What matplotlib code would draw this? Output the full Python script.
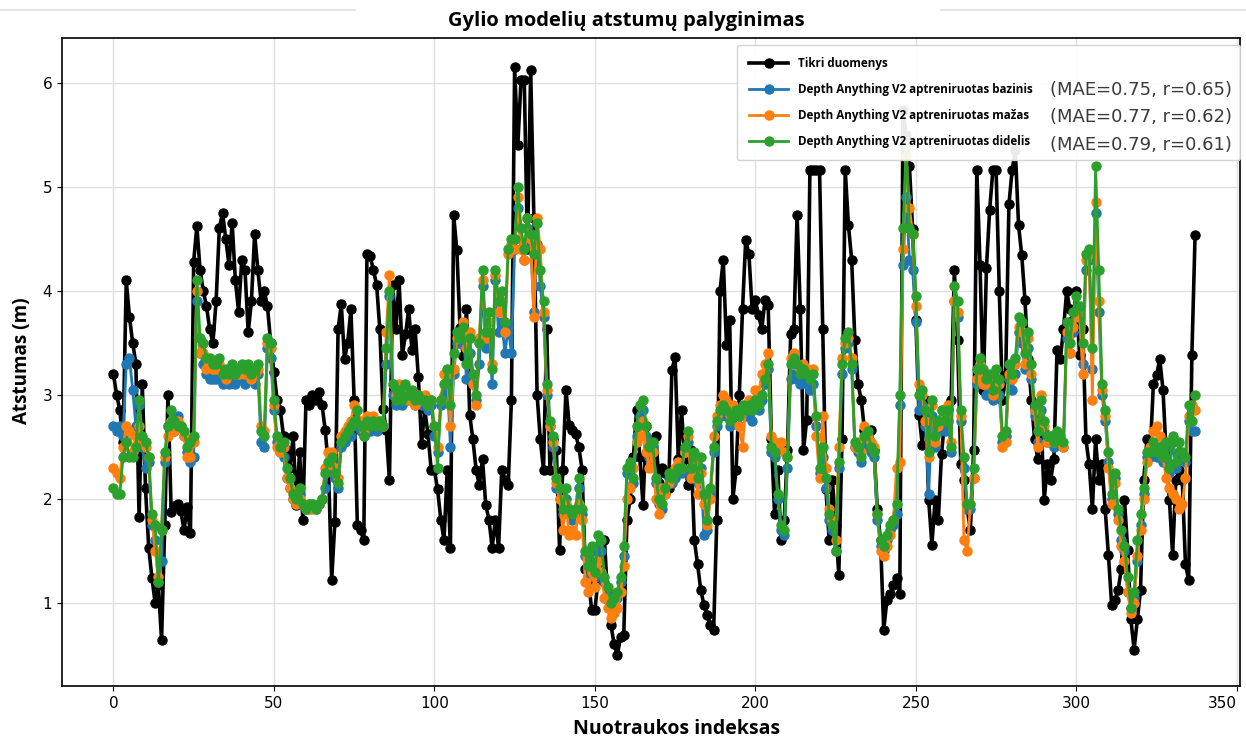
import matplotlib
matplotlib.use("Agg")
import matplotlib.pyplot as plt
from matplotlib.lines import Line2D
import numpy as np

title = "Gylio modelių atstumų palyginimas"
xlabel = "Nuotraukos indeksas"
ylabel = "Atstumas (m)"
labels = ["Tikri duomenys",
          "Depth Anything V2 aptreniruotas bazinis",
          "Depth Anything V2 aptreniruotas mažas",
          "Depth Anything V2 aptreniruotas didelis"]
metrics = ["(MAE=0.75, r=0.65)", "(MAE=0.77, r=0.62)", "(MAE=0.79, r=0.61)"]
xticks = [0, 50, 100, 150, 200, 250, 300, 350]
yticks = [1, 2, 3, 4, 5, 6]

true_vals = [
    3.2, 3.0, 2.85, 2.55, 4.1, 3.75, 3.5, 3.3, 1.82, 3.1,
    2.1, 1.53, 1.24, 1.0, 1.17, 0.64, 1.75, 3.0, 1.87, 1.93,
    1.95, 1.88, 1.7, 1.92, 1.67, 4.28, 4.62, 4.2, 4.0, 3.85,
    3.63, 3.5, 3.9, 4.6, 4.75, 4.5, 4.25, 4.65, 4.1, 3.8,
    4.3, 4.2, 3.6, 3.9, 4.55, 4.2, 3.9, 4.0, 3.85, 3.5,
    3.22, 2.95, 2.85, 2.6, 2.47, 2.3, 2.6, 1.94, 2.45, 1.8,
    2.95, 2.9, 3.0, 2.95, 3.03, 2.9, 2.66, 2.3, 1.22, 1.78,
    3.63, 3.87, 3.34, 3.5, 3.82, 2.95, 1.75, 1.7, 1.6, 4.35,
    4.33, 4.2, 4.06, 3.63, 2.86, 2.66, 2.18, 4.06, 3.63, 4.1,
    3.38, 3.58, 3.82, 3.43, 3.63, 3.17, 2.53, 2.86, 2.62, 2.28,
    2.28, 2.09, 1.8, 1.6, 2.28, 1.53, 4.73, 4.39, 3.64, 3.37,
    3.82, 2.81, 2.57, 2.28, 2.13, 2.38, 1.94, 1.8, 1.53, 1.8,
    1.53, 2.28, 2.18, 2.13, 2.95, 6.15, 5.4, 6.03, 6.03, 4.4,
    6.12, 4.7, 3.0, 2.57, 2.28, 3.63, 2.28, 2.57, 2.47, 1.51,
    2.28, 3.05, 2.71, 2.66, 2.62, 2.5, 2.28, 1.32, 1.22, 0.93,
    0.93, 1.22, 1.41, 1.6, 1.03, 0.79, 0.6, 0.5, 0.67, 0.69,
    1.8, 2.0, 2.4, 2.85, 2.4, 1.94, 2.7, 2.5, 2.38, 2.6,
    2.15, 2.3, 2.25, 2.1, 3.24, 3.36, 2.38, 2.85, 2.38, 2.13,
    2.47, 1.6, 1.37, 1.12, 0.98, 0.88, 0.79, 0.74, 1.8, 4.0,
    4.3, 3.48, 3.72, 2.0, 2.28, 3.0, 3.82, 4.49, 4.35, 3.82,
    3.91, 3.77, 3.63, 3.91, 3.86, 2.57, 1.85, 2.28, 1.6, 1.8,
    2.47, 3.58, 3.63, 4.73, 3.82, 2.47, 2.76, 5.16, 5.16, 5.16,
    5.16, 3.63, 2.09, 1.6, 2.18, 1.75, 1.27, 2.57, 5.16, 4.63,
    4.3, 3.53, 3.1, 2.95, 2.66, 2.57, 2.66, 2.47, 1.9, 1.6,
    0.74, 1.03, 1.08, 1.17, 1.24, 1.08, 5.74, 5.5, 5.2, 4.59,
    3.72, 2.81, 2.52, 2.95, 1.99, 1.56, 1.99, 1.8, 2.43, 2.76,
    2.86, 2.95, 4.2, 3.53, 2.33, 2.18, 1.9, 1.7, 2.47, 5.16,
    4.25, 3.05, 4.22, 4.78, 5.16, 5.16, 4.0, 2.95, 3.19, 4.83,
    5.16, 5.35, 4.63, 4.34, 3.91, 3.34, 2.95, 2.57, 2.38, 2.76,
    1.99, 2.33, 2.18, 2.38, 3.43, 3.34, 3.63, 4.0, 3.82, 3.72,
    4.0, 3.38, 3.63, 2.57, 2.33, 1.9, 2.57, 2.18, 2.33, 1.9,
    1.46, 0.98, 1.03, 1.12, 1.32, 1.99, 1.51, 0.84, 0.55, 0.84,
    1.12, 2.18, 2.57, 2.43, 3.1, 3.19, 3.34, 3.05, 2.43, 1.99,
    1.46, 2.18, 2.28, 2.18, 1.37, 1.22, 3.38, 4.54,
]

base_vals = [
    2.7, 2.65, 2.7, 2.6, 3.3, 3.35, 3.05, 2.7, 2.9, 2.5,
    2.3, 2.35, 1.75, 1.6, 1.2, 1.4, 2.35, 2.7, 2.75, 2.65,
    2.8, 2.7, 2.6, 2.45, 2.35, 2.4, 3.9, 3.4, 3.3, 3.2,
    3.15, 3.15, 3.15, 3.2, 3.1, 3.15, 3.1, 3.15, 3.1, 3.15,
    3.2, 3.1, 3.2, 3.15, 3.1, 3.2, 2.55, 2.5, 3.45, 3.35,
    2.85, 2.55, 2.45, 2.4, 2.2, 2.1, 2.0, 1.95, 2.05, 1.95,
    1.9, 1.9, 1.95, 1.9, 1.95, 2.0, 2.1, 2.3, 2.35, 2.2,
    2.1, 2.5, 2.55, 2.6, 2.6, 2.7, 2.75, 2.65, 2.6, 2.7,
    2.65, 2.7, 2.65, 2.7, 2.7, 3.3, 3.95, 3.0, 2.9, 3.0,
    2.9, 3.0, 2.95, 3.0, 2.9, 2.95, 2.9, 2.9, 2.85, 2.9,
    2.6, 2.45, 2.9, 3.0, 3.15, 2.5, 3.2, 3.5, 3.5, 3.6,
    3.15, 3.4, 3.1, 2.95, 3.3, 4.05, 3.45, 3.6, 3.1, 4.1,
    3.6, 3.7, 3.4, 3.65, 3.4, 4.4, 4.8, 4.4, 4.3, 4.6,
    4.45, 3.8, 4.45, 4.05, 3.75, 3.0, 2.7, 2.5, 2.1, 2.0,
    1.85, 2.0, 1.85, 1.8, 1.85, 2.1, 1.85, 1.45, 1.25, 1.5,
    1.25, 1.55, 1.5, 1.2, 1.1, 0.95, 1.0, 1.05, 1.2, 1.45,
    2.25, 2.3, 2.15, 2.6, 2.8, 2.85, 2.6, 2.4, 2.5, 2.15,
    1.95, 1.9, 2.05, 2.2, 2.15, 2.2, 2.25, 2.25, 2.45, 2.55,
    2.25, 2.4, 2.15, 2.3, 1.65, 1.7, 2.05, 2.45, 2.7, 2.8,
    2.85, 2.8, 2.7, 2.75, 2.8, 2.7, 2.85, 2.8, 2.8, 2.75,
    2.9, 2.85, 2.95, 3.1, 3.25, 2.45, 2.4, 2.0, 1.7, 1.65,
    2.3, 3.15, 3.2, 3.15, 3.1, 3.15, 3.1, 3.05, 3.1, 2.7,
    2.25, 2.4, 2.1, 1.8, 1.7, 1.5, 2.3, 3.2, 3.45, 3.5,
    3.25, 2.5, 2.45, 2.35, 2.5, 2.55, 2.45, 2.4, 1.8, 1.55,
    1.5, 1.6, 1.7, 1.75, 1.85, 2.9, 4.25, 4.9, 4.3, 4.2,
    3.7, 2.85, 2.9, 2.7, 2.05, 2.8, 2.5, 2.65, 2.75, 2.65,
    2.75, 2.45, 3.9, 3.75, 2.75, 2.3, 1.9, 1.9, 2.2, 3.1,
    3.2, 3.1, 3.0, 3.05, 2.95, 3.1, 3.0, 2.55, 2.6, 3.15,
    3.05, 3.2, 3.6, 3.5, 3.25, 3.45, 3.15, 2.8, 2.55, 2.85,
    2.65, 2.55, 2.55, 2.5, 2.6, 2.55, 2.5, 3.55, 3.4, 3.6,
    3.8, 3.75, 3.3, 4.2, 4.3, 3.25, 4.75, 3.8, 3.0, 2.75,
    2.35, 2.0, 2.2, 1.85, 1.6, 1.5, 1.1, 0.95, 1.05, 1.4,
    1.75, 2.05, 2.4, 2.4, 2.5, 2.4, 2.45, 2.35, 2.5, 2.25,
    2.55, 2.3, 2.45, 2.4, 2.35, 2.75, 2.65, 2.65,
]

small_vals = [
    2.3, 2.25, 2.2, 2.5, 2.7, 2.65, 2.45, 2.6, 2.7, 2.55,
    2.5, 2.4, 1.8, 1.5, 1.25, 1.7, 2.4, 2.6, 2.75, 2.65,
    2.75, 2.7, 2.6, 2.4, 2.4, 2.55, 4.0, 3.4, 3.4, 3.25,
    3.3, 3.25, 3.25, 3.3, 3.2, 3.15, 3.2, 3.25, 3.2, 3.2,
    3.25, 3.2, 3.25, 3.15, 3.2, 3.25, 2.7, 2.65, 3.5, 3.45,
    2.9, 2.5, 2.45, 2.5, 2.2, 2.1, 2.0, 1.95, 2.0, 1.95,
    1.9, 1.95, 1.9, 1.9, 1.95, 2.0, 2.3, 2.45, 2.45, 2.3,
    2.2, 2.6, 2.65, 2.7, 2.75, 2.9, 2.85, 2.75, 2.65, 2.8,
    2.75, 2.8, 2.75, 2.75, 2.7, 3.6, 4.15, 3.1, 3.0, 3.1,
    3.0, 3.05, 2.95, 3.0, 2.9, 3.0, 2.95, 3.0, 2.9, 2.95,
    2.7, 2.5, 2.95, 3.2, 3.2, 2.7, 3.25, 3.55, 3.6, 3.7,
    3.45, 3.6, 3.1, 2.9, 3.55, 4.1, 3.55, 3.7, 3.3, 4.15,
    3.8, 3.9, 3.6, 4.35, 4.45, 4.4, 4.9, 4.4, 4.3, 4.7,
    4.5, 3.75, 4.7, 4.4, 3.8, 3.05, 2.7, 2.55, 2.15, 2.0,
    1.7, 1.95, 1.65, 1.7, 1.65, 1.95, 1.8, 1.2, 1.1, 1.3,
    1.15, 1.4, 1.3, 1.05, 0.95, 0.85, 0.9, 0.95, 1.1, 1.35,
    2.0, 2.1, 2.3, 2.55, 2.6, 2.75, 2.45, 2.3, 2.45, 2.0,
    1.85, 2.1, 2.05, 2.15, 2.2, 2.3, 2.35, 2.3, 2.45, 2.6,
    2.2, 2.35, 2.05, 2.25, 1.95, 1.75, 2.0, 2.6, 2.8, 2.9,
    3.0, 2.95, 2.8, 2.9, 2.85, 2.7, 2.5, 2.9, 2.95, 2.9,
    3.05, 3.0, 3.2, 3.3, 3.4, 2.6, 2.55, 2.5, 2.55, 2.45,
    2.4, 3.35, 3.4, 3.3, 3.25, 3.3, 3.25, 3.2, 3.25, 2.6,
    2.2, 2.8, 2.3, 1.9, 1.8, 1.6, 2.5, 3.35, 3.5, 3.55,
    3.35, 2.5, 2.55, 2.45, 2.7, 2.6, 2.55, 2.5, 1.85, 1.5,
    1.45, 1.55, 1.65, 1.8, 2.3, 2.35, 4.4, 5.3, 4.8, 4.55,
    3.85, 3.1, 3.0, 2.75, 2.4, 2.9, 2.55, 2.7, 2.85, 2.8,
    2.9, 2.55, 3.9, 3.8, 2.8, 1.6, 1.5, 1.95, 2.2, 3.15,
    3.3, 3.1, 3.1, 3.15, 3.0, 3.15, 3.1, 2.5, 2.55, 3.2,
    3.15, 3.3, 3.65, 3.6, 3.3, 3.55, 3.2, 2.85, 2.5, 3.0,
    2.7, 2.55, 2.6, 2.55, 2.6, 2.55, 2.5, 3.6, 3.4, 3.65,
    3.75, 3.8, 3.2, 4.3, 4.35, 2.95, 4.85, 3.9, 3.05, 2.8,
    2.3, 1.95, 2.15, 1.8, 1.55, 1.4, 1.1, 0.9, 1.0, 1.45,
    1.7, 2.0, 2.35, 2.5, 2.65, 2.7, 2.6, 2.4, 2.2, 2.1,
    2.05, 2.0, 1.9, 1.95, 2.2, 2.8, 2.9, 2.85,
]

large_vals = [
    2.1, 2.05, 2.05, 2.4, 2.55, 2.4, 2.4, 2.5, 2.95, 2.6,
    2.55, 2.4, 1.85, 1.75, 1.2, 1.7, 2.45, 2.7, 2.85, 2.75,
    2.7, 2.7, 2.65, 2.5, 2.55, 2.6, 4.1, 3.55, 3.5, 3.35,
    3.35, 3.3, 3.3, 3.35, 3.2, 3.25, 3.2, 3.3, 3.2, 3.25,
    3.3, 3.25, 3.3, 3.2, 3.25, 3.3, 2.65, 2.6, 3.55, 3.5,
    2.95, 2.6, 2.5, 2.55, 2.3, 2.2, 2.05, 2.0, 2.1, 1.95,
    1.9, 1.95, 1.95, 1.9, 1.95, 2.0, 2.25, 2.35, 2.4, 2.25,
    2.15, 2.55, 2.6, 2.65, 2.7, 2.75, 2.85, 2.7, 2.6, 2.75,
    2.7, 2.75, 2.7, 2.75, 2.7, 3.45, 4.0, 3.1, 2.95, 3.05,
    2.95, 3.1, 3.0, 3.05, 2.95, 3.0, 2.95, 2.95, 2.9, 2.95,
    2.7, 2.3, 2.95, 3.1, 3.25, 2.9, 3.4, 3.6, 3.55, 3.65,
    3.3, 3.55, 3.2, 3.0, 3.5, 4.2, 3.6, 3.8, 3.25, 4.2,
    3.9, 4.0, 3.7, 4.4, 4.5, 4.5, 5.0, 4.6, 4.4, 4.7,
    4.55, 4.35, 4.65, 4.2, 3.9, 3.1, 2.75, 2.6, 2.2, 2.1,
    1.9, 2.1, 1.9, 1.85, 1.9, 2.2, 1.9, 1.5, 1.35, 1.55,
    1.3, 1.65, 1.6, 1.25, 1.15, 1.0, 1.05, 1.1, 1.25, 1.55,
    2.3, 2.35, 2.2, 2.7, 2.9, 2.95, 2.7, 2.5, 2.55, 2.2,
    2.0, 1.95, 2.1, 2.25, 2.2, 2.25, 2.3, 2.3, 2.5, 2.65,
    2.3, 2.45, 2.2, 2.4, 2.05, 1.8, 2.1, 2.5, 2.75, 2.85,
    2.9, 2.85, 2.75, 2.8, 2.85, 2.8, 2.9, 2.85, 2.9, 2.85,
    2.95, 2.9, 3.0, 3.15, 3.3, 2.5, 2.45, 2.05, 1.75, 1.7,
    2.4, 3.3, 3.35, 3.3, 3.2, 3.25, 3.2, 3.15, 3.2, 2.8,
    2.3, 2.5, 2.2, 1.85, 1.75, 1.5, 2.35, 3.3, 3.55, 3.6,
    3.3, 2.55, 2.5, 2.4, 2.6, 2.65, 2.5, 2.45, 1.85, 1.6,
    1.55, 1.65, 1.75, 1.8, 1.95, 3.0, 4.6, 5.4, 4.6, 4.55,
    3.95, 3.0, 3.05, 2.85, 2.45, 2.95, 2.6, 2.75, 2.85, 2.75,
    2.85, 2.5, 4.05, 3.9, 2.85, 2.4, 1.95, 1.95, 2.3, 3.25,
    3.35, 3.25, 3.15, 3.2, 3.05, 3.25, 3.15, 2.6, 2.65, 3.3,
    3.2, 3.35, 3.75, 3.7, 3.4, 3.6, 3.3, 2.9, 2.65, 2.95,
    2.75, 2.6, 2.6, 2.55, 2.65, 2.6, 2.55, 3.7, 3.5, 3.8,
    3.95, 3.85, 3.5, 4.35, 4.4, 3.45, 5.2, 4.2, 3.1, 2.85,
    2.45, 2.05, 2.25, 1.9, 1.7, 1.55, 1.25, 0.95, 1.1, 1.6,
    1.85, 2.1, 2.45, 2.45, 2.55, 2.45, 2.5, 2.4, 2.55, 2.3,
    2.6, 2.35, 2.55, 2.45, 2.4, 2.9, 2.75, 3.0,
]

series = [true_vals, base_vals, small_vals, large_vals]
colors = ["black", "#1f77b4", "#ff7f0e", "#2ca02c"]

fig = plt.figure(figsize=(12.46, 7.40), dpi=100)
ax = fig.add_axes([0.0498, 0.073, 0.9454, 0.8756])

handles = []
for vals, col, lab in zip(series, colors, labels):
    x = np.arange(len(vals))
    lw = 2.6 if col == "black" else 2.0
    h, = ax.plot(x, vals, color=col, marker="o", markersize=6.5, linewidth=lw, label=lab)
    handles.append(h)

ax.set_xlim(-16, 351)
ax.set_ylim(0.2, 6.43)
ax.set_xticks(xticks)
ax.set_yticks(yticks)
ax.tick_params(labelsize=11)
tl = ax.get_xticklabels()
tl[-1].set_horizontalalignment("right")
ax.grid(True, color="#e0e0e0", linewidth=1.0)
ax.set_axisbelow(True)
for s in ax.spines.values():
    s.set_linewidth(1.2)

fig.text(0.5024, 0.9716, title, fontsize=14.5, fontweight="bold", family="Open Sans",
         ha="center", va="center")
fig.text(0.5433, 0.0149, xlabel, fontsize=14, fontweight="bold", family="Open Sans",
         ha="center", va="center")
fig.text(0.0177, 0.512, ylabel, fontsize=13.6, fontweight="bold", family="Open Sans",
         ha="center", va="center", rotation=90)

leg = ax.legend(handles=handles, loc="upper left",
                bbox_to_anchor=(0.573, 0.809, 0.427, 0.18), mode="expand",
                borderaxespad=0.0,
                prop={"size": 8.4, "weight": "bold", "family": "Open Sans"},
                handlelength=3.4, handletextpad=0.8, labelspacing=1.12, borderpad=1.0,
                framealpha=0.92, edgecolor="#d0d0d0", fancybox=True)

ypos = [0.920, 0.878, 0.835]
for t, yy in zip(metrics, ypos):
    ax.text(0.9932, yy, t, transform=ax.transAxes, ha="right", va="center",
            fontsize=13, color="#3a3a3a", zorder=10)

fig.add_artist(Line2D([0.0, 0.285], [0.986, 0.986], color="#e6e6e6", lw=1.5))
fig.add_artist(Line2D([0.755, 1.0], [0.986, 0.986], color="#e6e6e6", lw=1.5))

fig.savefig("out.png", dpi=100)
